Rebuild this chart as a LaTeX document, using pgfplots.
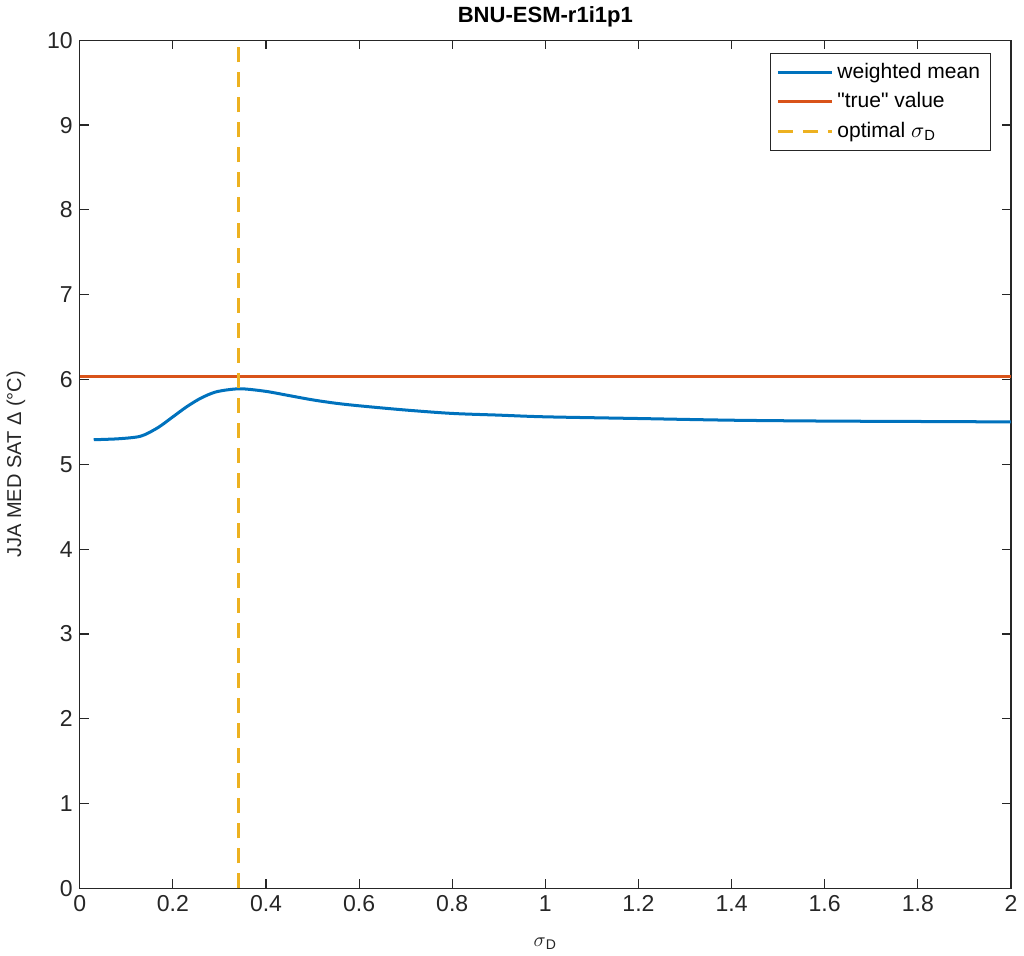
\documentclass[border=0pt]{standalone}
\usepackage{pgfplots}
\pgfplotsset{compat=1.18}
\usepackage{fontspec}
\setmainfont{Liberation Sans}
\newfontfamily\plainfont{Liberation Sans}
\definecolor{mblue}{rgb}{0,0.447,0.741}
\definecolor{morange}{rgb}{0.85,0.325,0.098}
\definecolor{myellow}{rgb}{0.929,0.694,0.125}
\definecolor{axgray}{rgb}{0.15,0.15,0.15}
\begin{document}
\begin{tikzpicture}
\begin{axis}[
    scale only axis,
    width=465pt,
    height=423.5pt,
    xmin=0, xmax=2,
    ymin=0, ymax=10,
    xtick={0,0.2,...,2},
    ytick={0,1,...,10},
    xticklabels={0,0.2,0.4,0.6,0.8,1,1.2,1.4,1.6,1.8,2},
    tick pos=both,
    tick align=inside,
    major tick length=4.5pt,
    axis line style={axgray, line width=0.6pt},
    tick style={axgray, line width=0.6pt},
    every tick label/.append style={font=\fontsize{11.5}{14}\selectfont, text=axgray},
    /pgf/number format/assume math mode=true,
    title={\textbf{BNU-ESM-r1i1p1}},
    title style={font=\fontsize{11}{13}\selectfont, yshift=-3pt},
    xlabel={$\sigma$\textsubscript{D}},
    ylabel={JJA MED SAT Δ (°C)},
    label style={font=\fontsize{10}{12}\selectfont, text=axgray},
    ylabel style={yshift=4pt},
    xlabel style={yshift=-6pt},
    legend image code/.code={\draw[#1] (0cm,0cm) -- (0.95cm,0cm);},
    legend style={at={(0.978,0.985)}, anchor=north east, draw=axgray,
        font=\fontsize{10.5}{13}\selectfont, row sep=1.5pt, inner sep=3pt,
        cells={anchor=west}},
]
\addplot[color=mblue, line width=1.5pt, smooth] coordinates {
    (0.03,5.29) (0.08,5.30) (0.12,5.32) (0.14,5.35) (0.17,5.44)
    (0.20,5.56) (0.23,5.68) (0.26,5.78) (0.29,5.85) (0.32,5.88)
    (0.35,5.89) (0.40,5.86) (0.45,5.81) (0.50,5.76) (0.55,5.72)
    (0.60,5.69) (0.70,5.64) (0.80,5.60) (0.90,5.58) (1.00,5.56)
    (1.20,5.54) (1.40,5.52) (1.60,5.51) (1.80,5.505) (2.00,5.50)
};
\addlegendentry{weighted mean}
\addplot[color=morange, line width=1.5pt] coordinates {(0,6.03) (2,6.03)};
\addlegendentry{{\plainfont"true" value}}
\addplot[color=myellow, line width=1.5pt, dash pattern=on 7.5pt off 5pt] coordinates {(0.34,0) (0.34,10)};
\addlegendentry{optimal $\sigma$\textsubscript{D}}
\end{axis}
\end{tikzpicture}
\end{document}
